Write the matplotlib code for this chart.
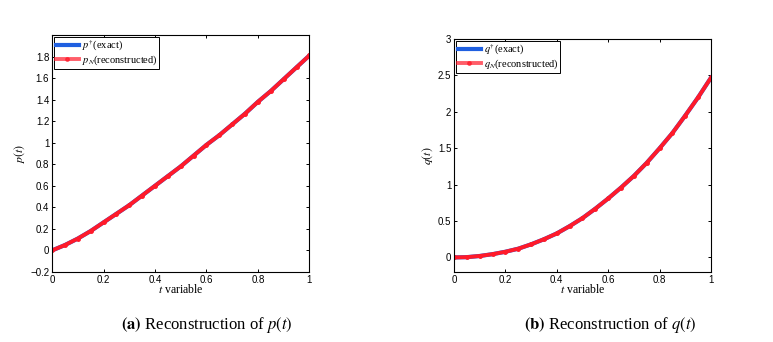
import numpy as np
import matplotlib.pyplot as plt

# values
t = [0.0, 0.05, 0.1, 0.15, 0.2, 0.25, 0.3, 0.35, 0.4, 0.45, 0.5,
     0.55, 0.6, 0.65, 0.7, 0.75, 0.8, 0.85, 0.9, 0.95, 1.0]
p_exact = [0.0, 0.05, 0.11, 0.18, 0.26, 0.34, 0.42, 0.51, 0.60, 0.69, 0.78,
           0.88, 0.98, 1.07, 1.17, 1.27, 1.38, 1.48, 1.59, 1.70, 1.81]
p_recon = p_exact
q_exact = [0.0, 0.004, 0.02, 0.045, 0.078, 0.12, 0.18, 0.25, 0.33, 0.43, 0.54,
           0.67, 0.81, 0.96, 1.12, 1.30, 1.50, 1.71, 1.95, 2.20, 2.47]
q_recon = q_exact

plt.rcParams['mathtext.fontset'] = 'stix'
plt.rcParams['font.family'] = 'Liberation Sans'

fig = plt.figure(figsize=(7.73, 3.42), dpi=100, facecolor='white')
ax1 = fig.add_axes([0.0673, 0.2047, 0.333, 0.693])
ax2 = fig.add_axes([0.5873, 0.2047, 0.3325, 0.681])

def style(ax):
    ax.tick_params(direction='in', top=True, right=True, labelsize=7, length=2.5, width=0.7, pad=2)
    for s in ax.spines.values():
        s.set_linewidth(0.8)
    ax.set_xlim(0, 1)
    ax.set_xticks([0, 0.2, 0.4, 0.6, 0.8, 1])
    ax.set_xticklabels(['0', '0.2', '0.4', '0.6', '0.8', '1'])
    ax.set_xlabel('$t$ variable', family='Liberation Serif', fontsize=8.5, labelpad=-1)

ax1.plot(t, p_exact, color='#1f5fe0', lw=3, label=r'$p^{\dagger}$(exact)')
ax1.plot(t, p_recon, color='#ff1a2a', lw=2.8, marker='o', ms=2.5, label=r'$p_N$(reconstructed)')
style(ax1)
ax1.set_ylim(-0.2, 2.0)
ax1.set_yticks([-0.2, 0, 0.2, 0.4, 0.6, 0.8, 1, 1.2, 1.4, 1.6, 1.8])
ax1.set_yticklabels(['\u22120.2', '0', '0.2', '0.4', '0.6', '0.8', '1', '1.2', '1.4', '1.6', '1.8'])
ax1.set_ylabel('$p(t)$', fontsize=8.5, labelpad=2)

ax2.plot(t, q_exact, color='#1f5fe0', lw=3, label=r'$q^{\dagger}$(exact)')
ax2.plot(t, q_recon, color='#ff1a2a', lw=2.8, marker='o', ms=2.5, label=r'$q_N$(reconstructed)')
style(ax2)
ax2.set_ylim(-0.2, 3.0)
ax2.set_yticks([0, 0.5, 1, 1.5, 2, 2.5, 3])
ax2.set_yticklabels(['0', '0.5', '1', '1.5', '2', '2.5', '3'])
ax2.set_ylabel('$q(t)$', fontsize=8.5, labelpad=2)

for ax in (ax1, ax2):
    leg = ax.legend(loc='upper left', prop={'family': 'Liberation Serif', 'size': 7.5},
                    fancybox=False, edgecolor='black', borderpad=0.15, labelspacing=0.05,
                    handlelength=2.2, handletextpad=0.3, borderaxespad=0.2, framealpha=1)
    leg.get_frame().set_linewidth(0.7)
    leg.get_lines()[1].set_alpha(0.7)

fig.text(0.268, 0.05, r'$\mathbf{(a)}$ Reconstruction of $p(t)$', ha='center', va='center',
         family='Liberation Serif', fontsize=12)
fig.text(0.790, 0.05, r'$\mathbf{(b)}$ Reconstruction of $q(t)$', ha='center', va='center',
         family='Liberation Serif', fontsize=12)

plt.savefig('out.png', dpi=100, facecolor=fig.get_facecolor())
